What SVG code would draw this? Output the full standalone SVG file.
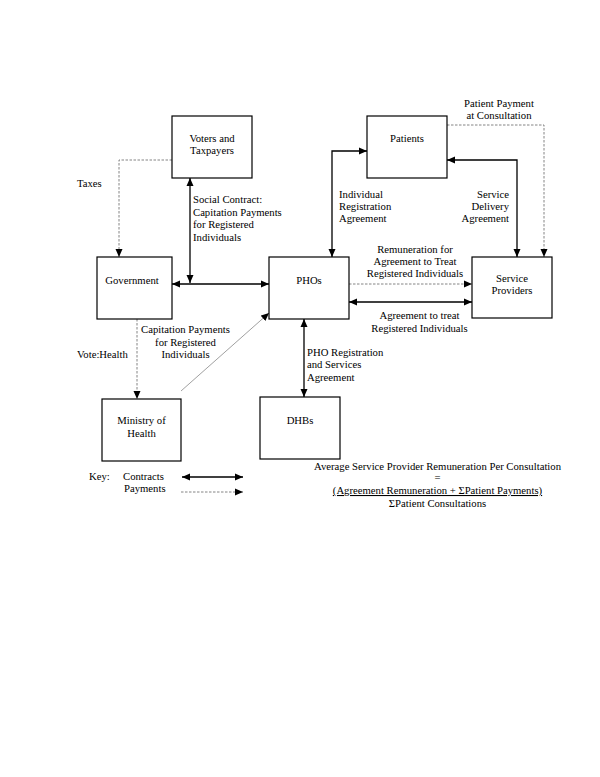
<svg xmlns="http://www.w3.org/2000/svg" width="600" height="777" viewBox="0 0 600 777">
<style>
text{font-family:"Liberation Serif","Times New Roman",serif;font-size:10.7px;fill:#000}
.c{text-anchor:middle}
.e{text-anchor:end}
.box{fill:#fff;stroke:#000;stroke-width:1.2}
.k{fill:none;stroke:#000;stroke-width:1.3}
.p{fill:none;stroke:#777;stroke-width:0.9;stroke-dasharray:2.5,1.5}
.g{fill:none;stroke:#888;stroke-width:0.8}
</style>
<defs>
<marker id="ah" viewBox="0 0 8 8" refX="8" refY="4" markerWidth="8" markerHeight="8" markerUnits="userSpaceOnUse" orient="auto-start-reverse">
<path d="M0,0.5 L8,4 L0,7.5 z" fill="#000"/>
</marker>
</defs>
<rect width="600" height="777" fill="#fff"/>
<g id="connectors">
<path class="p" d="M172,160 H119 V257" marker-end="url(#ah)"/>
<path class="k" d="M190,178 V283" marker-start="url(#ah)" marker-end="url(#ah)"/>
<path class="k" d="M172,284 H269" marker-start="url(#ah)" marker-end="url(#ah)"/>
<path class="p" d="M447,125 H544 V257" marker-end="url(#ah)"/>
<path class="k" d="M447,160 H517 V257" marker-start="url(#ah)" marker-end="url(#ah)"/>
<path class="k" d="M367,151 H332 V257" marker-start="url(#ah)" marker-end="url(#ah)"/>
<path class="p" d="M349,284 H472" marker-end="url(#ah)"/>
<path class="k" d="M349,302 H472" marker-start="url(#ah)" marker-end="url(#ah)"/>
<path class="k" d="M304,319 V397" marker-start="url(#ah)" marker-end="url(#ah)"/>
<path class="p" d="M137,319 V399" marker-end="url(#ah)"/>
<path class="g" d="M181,391 L269,313" marker-end="url(#ah)"/>
<path class="k" d="M182,477 H243" marker-start="url(#ah)" marker-end="url(#ah)"/>
<path class="p" d="M181,492 H243" marker-end="url(#ah)"/>
</g>
<g id="voters"><rect class="box" x="172" y="116" width="80" height="62"/><text class="c" x="212" y="142">Voters and</text><text class="c" x="212" y="154">Taxpayers</text></g>
<g id="government"><rect class="box" x="97" y="257" width="75" height="62"/><text class="c" x="132" y="284">Government</text></g>
<g id="phos"><rect class="box" x="269" y="257" width="80" height="62"/><text class="c" x="309" y="284">PHOs</text></g>
<g id="patients"><rect class="box" x="367" y="116" width="80" height="62"/><text class="c" x="407" y="142">Patients</text></g>
<g id="service-providers"><rect class="box" x="472" y="257" width="80" height="61"/><text class="c" x="512" y="282">Service</text><text class="c" x="512" y="294">Providers</text></g>
<g id="ministry"><rect class="box" x="102" y="399" width="79" height="62"/><text class="c" x="141.5" y="424">Ministry of</text><text class="c" x="141.5" y="437">Health</text></g>
<g id="dhbs"><rect class="box" x="260" y="397" width="80" height="62"/><text class="c" x="300" y="424">DHBs</text></g>
<g id="labels">
<text x="77" y="187">Taxes</text>
<text x="193" y="203">Social Contract:</text>
<text x="193" y="216">Capitation Payments</text>
<text x="193" y="228">for Registered</text>
<text x="193" y="241">Individuals</text>
<text class="c" x="499" y="107">Patient Payment</text>
<text class="c" x="499" y="119">at Consultation</text>
<text x="339" y="198">Individual</text>
<text x="339" y="210">Registration</text>
<text x="339" y="222">Agreement</text>
<text class="e" x="509" y="198">Service</text>
<text class="e" x="509" y="210">Delivery</text>
<text class="e" x="509" y="222">Agreement</text>
<text class="c" x="415" y="253">Remuneration for</text>
<text class="c" x="415" y="265">Agreement to Treat</text>
<text class="c" x="415" y="277">Registered Individuals</text>
<text class="c" x="419.5" y="319">Agreement to treat</text>
<text class="c" x="419.5" y="332">Registered Individuals</text>
<text x="307" y="356">PHO Registration</text>
<text x="307" y="368">and Services</text>
<text x="307" y="381">Agreement</text>
<text x="77" y="358">Vote:Health</text>
<text class="c" x="185.5" y="333">Capitation Payments</text>
<text class="c" x="185.5" y="346">for Registered</text>
<text class="c" x="185.5" y="358">Individuals</text>
<text x="89" y="480">Key:</text>
<text x="123" y="480">Contracts</text>
<text x="124" y="492">Payments</text>
<text class="c" x="437.5" y="470">Average Service Provider Remuneration Per Consultation</text>
<text class="c" x="437.5" y="481">=</text>
<text class="c" x="437.5" y="494" text-decoration="underline">(Agreement Remuneration + ΣPatient Payments)</text>
<text class="c" x="437.5" y="507">ΣPatient Consultations</text>
</g>
</svg>
